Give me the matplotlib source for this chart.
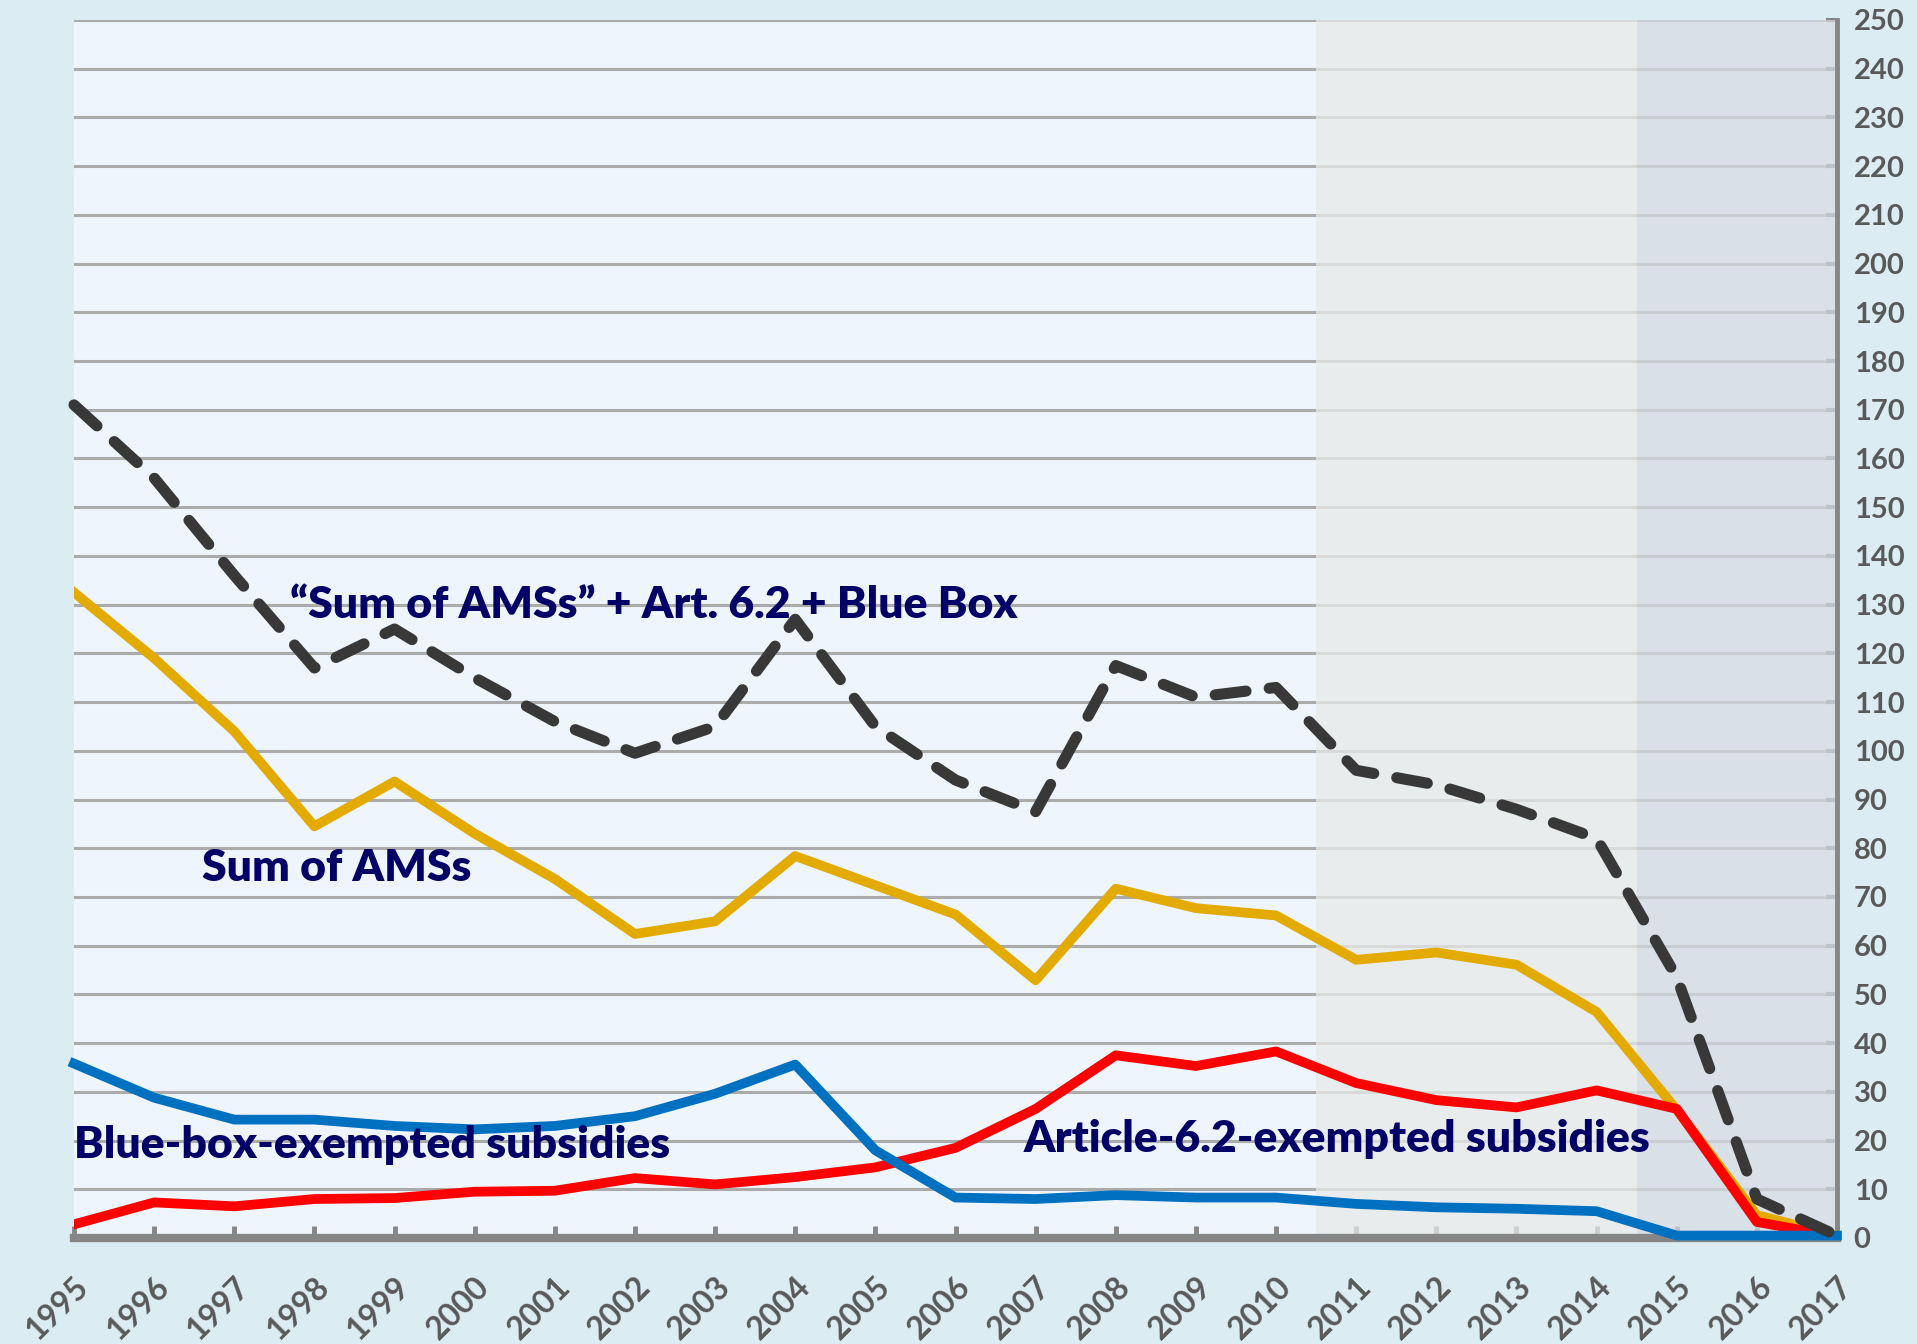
import numpy as np
import matplotlib.pyplot as plt

years = list(range(1995, 2018))

# "Sum of AMSs" + Art. 6.2 + Blue Box
total = [171, 156, 136, 117, 125, 115, 106, 99.5, 105, 127, 105, 94, 87.5,
         117.5, 111, 113, 96, 93, 88, 82, 53.5, 8, 0.5]
sum_amss = [132.5, 119, 104, 84.5, 93.7, 83, 73.7, 62.4, 65, 78.4, 72.4, 66.4,
            52.9, 71.7, 67.7, 66.2, 57.1, 58.6, 56.1, 46.4, 26.3, 4.7, 0.5]
art62 = [2.8, 7.3, 6.5, 8, 8.2, 9.5, 9.7, 12.3, 11, 12.5, 14.5, 18.5, 26.5,
         37.5, 35.3, 38.3, 31.8, 28.3, 26.8, 30.3, 26.5, 3.3, 0.3]
bluebox = [35.8, 28.8, 24.3, 24.3, 23, 22.3, 23, 25, 29.6, 35.6, 18, 8.3, 8,
           8.8, 8.3, 8.3, 7, 6.3, 6, 5.5, 0.5, 0.5, 0.5]

yticks = list(range(0, 260, 10))

plt.rcParams['font.family'] = ['Lato', 'DejaVu Sans']

fig = plt.figure(figsize=(19.17, 13.44), dpi=100)
fig.patch.set_facecolor('#DBEDF3')
ax = fig.add_axes([74/1917, 106/1344, (1837-74)/1917, (1238-20)/1344])
ax.set_facecolor('#EEF5FC')

# grid
for v in yticks[1:]:
    ax.axhline(v, color='#ABABAB', lw=2.2, zorder=1)

# shaded periods
ax.axvspan(2010.5, 2014.5, color='#E7EAE9', alpha=0.75, lw=0, zorder=2)
ax.axvspan(2014.5, 2017, color='#D2D9E0', alpha=0.75, lw=0, zorder=2)

ax.plot(years, sum_amss, color='#E3AB00', lw=7, zorder=4)
ax.plot(years, art62, color='#FF0000', lw=7, zorder=5)
ax.plot(years, bluebox, color='#0070C0', lw=7, zorder=6, clip_on=False)
ax.plot(years, total, color='#383838', lw=8, ls=(0, (2.8, 2.1)),
        dash_capstyle='round', zorder=7, clip_on=False)

ax.set_xlim(1995, 2017)
ax.set_ylim(0, 250)

ax.yaxis.tick_right()
ax.set_yticks(yticks)
ax.set_xticks(years)
ax.set_xticklabels([str(y) for y in years], rotation=45, ha='right',
                   rotation_mode='anchor')
ax.tick_params(axis='y', direction='in', length=8, width=3, color='#868686',
               labelsize=21, labelcolor='#595959', pad=12)
ax.tick_params(axis='x', direction='in', length=9, width=3.5, color='#868686',
               labelsize=23, labelcolor='#595959', pad=24)
for lab in ax.get_xticklabels() + ax.get_yticklabels():
    lab.set_fontweight('bold')
for lab in ax.get_yticklabels():
    lab.set_horizontalalignment('left')

for s in ['left', 'top']:
    ax.spines[s].set_visible(False)
ax.spines['right'].set_color('#868686')
ax.spines['right'].set_linewidth(3.5)
ax.spines['bottom'].set_color('#868686')
ax.spines['bottom'].set_linewidth(6)
ax.spines['bottom'].set_zorder(3)

txt = dict(color='#000066', fontsize=32, fontweight='heavy', va='center', zorder=8)
ax.text(1997.7, 130, '\u201cSum of AMSs\u201d + Art. 6.2 + Blue Box', **txt)
ax.text(1996.6, 76, 'Sum of AMSs', **txt)
ax.text(1995.0, 19, 'Blue-box-exempted subsidies', **txt)
ax.text(2006.85, 20.3, 'Article-6.2-exempted subsidies', **txt)

plt.savefig('out.png', dpi=100, facecolor=fig.get_facecolor())
